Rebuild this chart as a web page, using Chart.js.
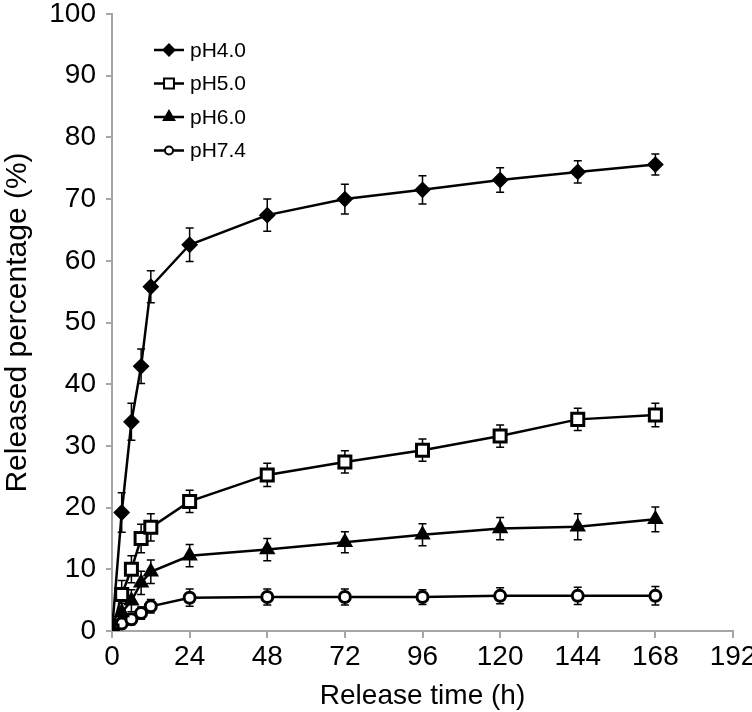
<!DOCTYPE html>
<html>
<head>
<meta charset="utf-8">
<script src="https://cdn.jsdelivr.net/npm/chart.js@4.4.1/dist/chart.umd.min.js"></script>
<style>
  html, body { margin: 0; padding: 0; background: #fff; }
  #wrap { width: 752px; height: 712px; }
</style>
</head>
<body>
<div id="wrap"><canvas id="releaseChart" width="752" height="712"></canvas></div>
<script>
// release time points (h)
const times = [0, 3, 6, 9, 12, 24, 48, 72, 96, 120, 144, 168];
const xTicks = [0, 24, 48, 72, 96, 120, 144, 168, 192];
const yTicks = [0, 10, 20, 30, 40, 50, 60, 70, 80, 90, 100];

// released percentage (%) and error bars
const ph40 = [0, 19.2, 33.9, 42.9, 55.8, 62.6, 67.4, 70.0, 71.5, 73.1, 74.4, 75.6];
const ph40Err = [0, 3.2, 3.0, 2.8, 2.6, 2.7, 2.6, 2.4, 2.3, 2.0, 1.8, 1.7];
const ph50 = [0, 5.9, 10.0, 15.0, 16.8, 21.0, 25.3, 27.4, 29.3, 31.6, 34.3, 35.0];
const ph50Err = [0, 2.3, 2.2, 2.3, 2.2, 1.8, 1.9, 1.8, 1.8, 1.8, 1.8, 1.9];
const ph60 = [0, 3.0, 4.9, 7.8, 9.6, 12.2, 13.2, 14.4, 15.6, 16.6, 16.9, 18.1];
const ph60Err = [0, 1.5, 1.8, 1.9, 1.9, 1.8, 1.8, 1.7, 1.8, 1.8, 2.1, 2.0];
const ph74 = [0, 1.2, 1.9, 2.9, 4.0, 5.4, 5.5, 5.5, 5.5, 5.7, 5.7, 5.7];
const ph74Err = [0, 0.8, 0.9, 1.0, 1.1, 1.4, 1.3, 1.3, 1.2, 1.3, 1.4, 1.5];

const seriesLabels = ["pH4.0", "pH5.0", "pH6.0", "pH7.4"];

const FONT = "'Liberation Sans', Arial, Helvetica, sans-serif";
const AXIS_GREY = "#a6a6a6";

function toPoints(vals) {
  return times.map(function (t, i) { return { x: t, y: vals[i] }; });
}

function makeSet(label, vals, errs, style, radius, fill, bw) {
  return {
    label: label,
    data: toPoints(vals),
    errs: errs,
    borderColor: "#000",
    borderWidth: 2.5,
    pointStyle: style,
    pointRadius: radius,
    pointBorderWidth: bw,
    pointBorderColor: "#000",
    pointBackgroundColor: fill,
    tension: 0,
    fill: false
  };
}

// vertical error bars with caps, drawn through the chart scales
const errorBars = {
  id: "errorBars",
  beforeDatasetsDraw: function (chart) {
    const ctx = chart.ctx;
    const xs = chart.scales.x, ys = chart.scales.y;
    ctx.save();
    ctx.strokeStyle = "#000";
    ctx.lineWidth = 1.5;
    chart.data.datasets.forEach(function (ds) {
      ds.data.forEach(function (p, i) {
        const e = ds.errs[i];
        if (!e) return;
        const px = xs.getPixelForValue(p.x);
        const top = ys.getPixelForValue(p.y + e);
        const bot = ys.getPixelForValue(p.y - e);
        ctx.beginPath();
        ctx.moveTo(px, top); ctx.lineTo(px, bot);
        ctx.moveTo(px - 4, top); ctx.lineTo(px + 4, top);
        ctx.moveTo(px - 4, bot); ctx.lineTo(px + 4, bot);
        ctx.stroke();
      });
    });
    ctx.restore();
  }
};

// legend in the top-left of the plot: short line + marker + label
const insideLegend = {
  id: "insideLegend",
  afterDraw: function (chart) {
    const ctx = chart.ctx;
    const rows = [50, 83.5, 117, 150.5];
    ctx.save();
    chart.data.datasets.forEach(function (ds, i) {
      const y = rows[i];
      ctx.strokeStyle = "#000";
      ctx.lineWidth = 2.5;
      ctx.beginPath();
      ctx.moveTo(154, y); ctx.lineTo(184, y);
      ctx.stroke();
      ctx.fillStyle = ds.pointBackgroundColor;
      ctx.lineWidth = 2;
      Chart.helpers.drawPoint(ctx, {
        pointStyle: ds.pointStyle,
        radius: ds.pointRadius - 1.5,
        borderWidth: 2
      }, 169, y);
      ctx.fillStyle = "#000";
      ctx.font = "21px " + FONT;
      ctx.textBaseline = "middle";
      ctx.fillText(ds.label, 190, y + 1);
    });
    ctx.restore();
  }
};

const ctx = document.getElementById("releaseChart").getContext("2d");
new Chart(ctx, {
  type: "line",
  data: {
    datasets: [
      makeSet(seriesLabels[0], ph40, ph40Err, "rectRot", 7, "#000", 2),
      makeSet(seriesLabels[1], ph50, ph50Err, "rect", 8.5, "#fff", 3),
      makeSet(seriesLabels[2], ph60, ph60Err, "triangle", 7.5, "#000", 2),
      makeSet(seriesLabels[3], ph74, ph74Err, "circle", 5.5, "#fff", 3)
    ]
  },
  options: {
    responsive: false,
    animation: false,
    layout: { padding: { top: 14, right: 19, left: 0, bottom: 0 } },
    plugins: {
      legend: { display: false },
      tooltip: { enabled: false }
    },
    scales: {
      x: {
        type: "linear",
        min: xTicks[0],
        max: xTicks[xTicks.length - 1],
        afterBuildTicks: function (s) { s.ticks = xTicks.map(function (v) { return { value: v }; }); },
        afterFit: function (s) { s.height = 81; s.paddingLeft = 0; s.paddingRight = 0; },
        grid: { display: true, drawOnChartArea: false, drawTicks: true, tickLength: 7, color: AXIS_GREY, lineWidth: 2 },
        border: { display: true, color: AXIS_GREY, width: 2 },
        ticks: { color: "#000", padding: 2, font: { family: FONT, size: 28 } },
        title: { display: true, text: "Release time (h)", color: "#000", padding: { top: 0, bottom: 0 }, font: { family: FONT, size: 28, lineHeight: 1.1 } }
      },
      y: {
        min: yTicks[0],
        max: yTicks[yTicks.length - 1],
        afterBuildTicks: function (s) { s.ticks = yTicks.map(function (v) { return { value: v }; }); },
        afterFit: function (s) { s.width = 112; s.paddingTop = 0; s.paddingBottom = 0; },
        grid: { display: true, drawOnChartArea: false, drawTicks: true, tickLength: 6, color: AXIS_GREY, lineWidth: 2 },
        border: { display: true, color: AXIS_GREY, width: 2 },
        ticks: { color: "#000", padding: 10, font: { family: FONT, size: 28 } },
        title: { display: true, text: "Released percentage (%)", color: "#000", padding: { top: 1, bottom: 0 }, font: { family: FONT, size: 30, lineHeight: 1.1 } }
      }
    }
  },
  plugins: [errorBars, insideLegend]
});
</script>
</body>
</html>
